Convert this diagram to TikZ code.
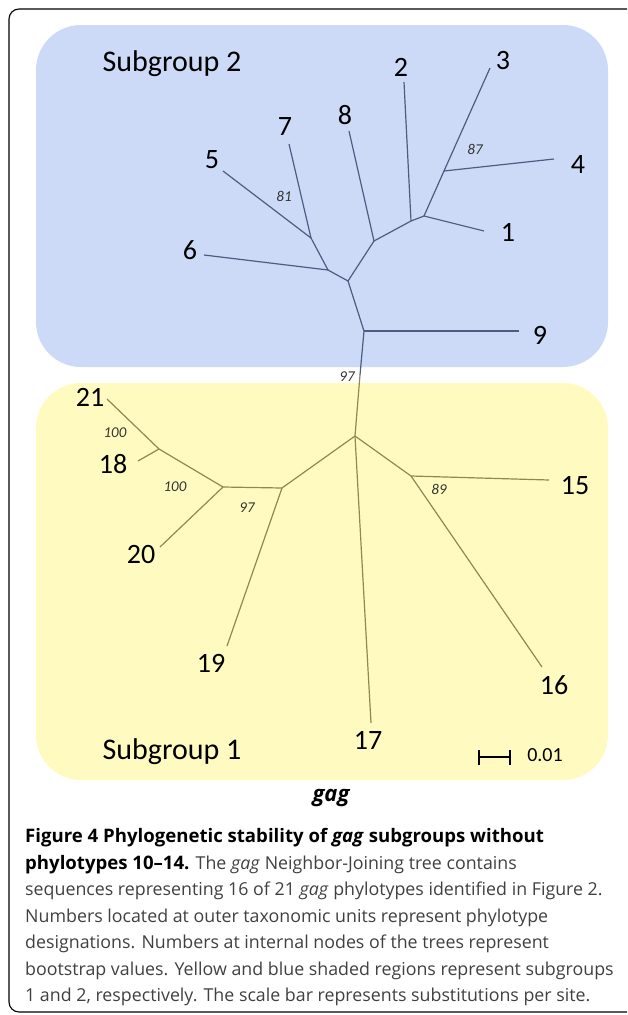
\documentclass[tikz,border=0pt]{standalone}
\usepackage{fontspec}
\setmainfont{Open Sans}
\newfontfamily\treefont{Carlito}
\definecolor{grpblue}{RGB}{204,218,248}
\definecolor{grpyellow}{RGB}{255,251,192}
\definecolor{bluebr}{RGB}{78,92,130}
\definecolor{yellowbr}{RGB}{140,138,82}
\tikzset{
  leaf/.style={inner sep=0pt, font=\treefont\fontsize{28}{28}\selectfont},
  boot/.style={inner sep=0pt, text=black!80, font=\treefont\itshape\fontsize{15}{15}\selectfont},
  grouplabel/.style={inner sep=0pt, font=\treefont\fontsize{30}{30}\selectfont},
  capline/.style={anchor=west, inner sep=0pt, text=black!75, font=\fontsize{17.8}{20}\selectfont},
  bbranch/.style={draw=bluebr, line width=1.2pt},
  ybranch/.style={draw=yellowbr, line width=1.2pt}
}
\begin{document}
\begin{tikzpicture}[x=1pt,y=-1pt]
\useasboundingbox (0,0) rectangle (627,1015);
\clip (0,0) rectangle (627,1015);
\draw[line width=1.1pt, rounded corners=10pt] (9,9) rectangle (640,1012);
\fill[grpblue, rounded corners=45pt] (36,25) rectangle (608,367);
\fill[grpyellow, rounded corners=45pt] (36,383) rectangle (608,780);
\node[grouplabel] (sg2) at (172,64) {Subgroup 2};
\node[grouplabel] (sg1) at (172,752) {Subgroup 1};
% subgroup 2
\coordinate (j9) at (364,331);
\coordinate (j1) at (348,281);
\coordinate (j2) at (328,270);
\coordinate (j3) at (311,238);
\coordinate (j4) at (374,241);
\coordinate (j5) at (411,221);
\coordinate (j6) at (424,216);
\coordinate (j7) at (444,171);
\coordinate (e1) at (484,231);
\coordinate (e2) at (404,82);
\coordinate (e3) at (490,68);
\coordinate (e4) at (554,159);
\coordinate (e5) at (223,171);
\coordinate (e6) at (204,255);
\coordinate (e7) at (289,144);
\coordinate (e8) at (349,131);
\coordinate (e9) at (519,331);
% subgroup 1
\coordinate (stem) at (360,375);
\coordinate (k1) at (355,436);
\coordinate (k2) at (411,476);
\coordinate (k3) at (282,488);
\coordinate (k4) at (223,487);
\coordinate (k5) at (159,449);
\coordinate (e15) at (549,480);
\coordinate (e16) at (542,667);
\coordinate (e17) at (371,723);
\coordinate (e18) at (138,461);
\coordinate (e19) at (227,646);
\coordinate (e20) at (160,547);
\coordinate (e21) at (107,399);
\foreach \a/\b in {j9/e9,j9/j1,j1/j2,j2/e6,j2/j3,j3/e5,j3/e7,j1/j4,j4/e8,j4/j5,j5/e2,j5/j6,j6/e1,j6/j7,j7/e4,j7/e3,j9/stem}
  \draw[bbranch] (\a) -- (\b);
\foreach \a/\b in {stem/k1,k1/e17,k1/k2,k2/e15,k2/e16,k1/k3,k3/e19,k3/k4,k4/e20,k4/k5,k5/e18,k5/e21}
  \draw[ybranch] (\a) -- (\b);
% leaf labels
\foreach \n/\p in {1/{508,232},2/{401,67},3/{503,61},4/{578,165},5/{212,160},6/{190,250},7/{285,127},8/{345,115},9/{540,335},15/{575,486},16/{554,685},17/{368,740},18/{113,464},19/{211,663},20/{141,555},21/{90,397}}
  \node[leaf] (l\n) at (\p) {\n};
% bootstrap values
\node[boot] (b97a) at (347,377) {97};
\node[boot] (b81) at (284,196) {81};
\node[boot] (b87) at (475,149) {87};
\node[boot] (b100a) at (115,433) {100};
\node[boot] (b100b) at (175,487) {100};
\node[boot] (b97b) at (247,508) {97};
\node[boot] (b89) at (439,489) {89};
% scale bar
\coordinate (sa) at (479,757);
\coordinate (sb) at (510,757);
\draw[line width=1.8pt] (sa) -- (sb);
\draw[line width=1.8pt] ([yshift=-7.5pt]sa) -- ([yshift=7.5pt]sa);
\draw[line width=1.8pt] ([yshift=-7.5pt]sb) -- ([yshift=7.5pt]sb);
\node[inner sep=0pt, font=\treefont\fontsize{20}{20}\selectfont] (scale) at (545,755) {0.01};
% caption
\node[inner sep=0pt, font=\bfseries\itshape\fontsize{22}{22}\selectfont] (gene) at (331,798) {gag};
\node[capline, text=black, font=\bfseries\fontsize{18.6}{20}\selectfont] (c1) at (25,838) {Figure 4 Phylogenetic stability of \textit{gag} subgroups without};
\node[capline] (c2) at (25,864.5) {\textbf{\color{black}\fontsize{18.6}{20}\selectfont phylotypes 10--14.} The \textit{gag} Neighbor-Joining tree contains};
\node[capline] (c3) at (25,891) {sequences representing 16 of 21 \textit{gag} phylotypes identified in Figure 2.};
\node[capline] (c4) at (25,917.5) {Numbers located at outer taxonomic units represent phylotype};
\node[capline] (c5) at (25,944) {designations. Numbers at internal nodes of the trees represent};
\node[capline] (c6) at (25,970.5) {bootstrap values. Yellow and blue shaded regions represent subgroups};
\node[capline] (c7) at (25,997) {1 and 2, respectively. The scale bar represents substitutions per site.};
\end{tikzpicture}
\end{document}
